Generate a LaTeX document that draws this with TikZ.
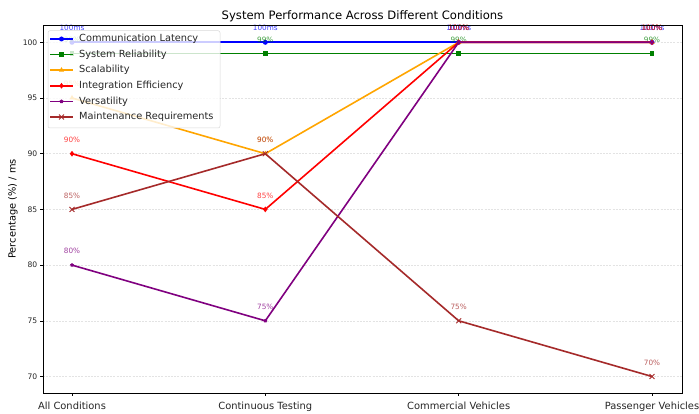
\documentclass[tikz,border=0pt]{standalone}
\usepackage{fontspec}
\setmainfont{DejaVu Sans}
\usetikzlibrary{shapes.geometric,shapes.misc}
\definecolor{mblue}{RGB}{0,0,255}
\definecolor{mgreen}{RGB}{0,128,0}
\definecolor{morange}{RGB}{255,165,0}
\definecolor{mred}{RGB}{255,0,0}
\definecolor{mpurple}{RGB}{128,0,128}
\definecolor{mbrown}{RGB}{165,42,42}
\begin{document}
\begin{tikzpicture}[x=1pt,y=-1pt,
  serie/.style={line width=1.6pt, line join=round, draw=#1},
  mkcirc/.style={circle, fill=#1, inner sep=0pt, minimum size=5pt},
  mksq/.style={rectangle, fill=#1, inner sep=0pt, minimum size=4.6pt},
  mktri/.style={regular polygon, regular polygon sides=3, fill=#1, inner sep=0pt, minimum size=6pt},
  mkdia/.style={diamond, fill=#1, inner sep=0pt, minimum width=4.6pt, minimum height=6pt},
  mkpent/.style={regular polygon, regular polygon sides=5, fill=#1, inner sep=0pt, minimum size=4pt},
  mkx/.style={cross out, draw=#1, line width=0.9pt, inner sep=0pt, minimum size=4pt},
  vlab/.style={font=\fontsize{7.3}{8}\selectfont, text=#1, text opacity=0.75, inner sep=0pt, yshift=14pt},
  ticklab/.style={font=\fontsize{7.6}{9}\selectfont, text=black!85, inner sep=0pt},
  xlab/.style={font=\fontsize{9.9}{11}\selectfont, text=black!85, inner sep=0pt},
  legtext/.style={font=\fontsize{9.8}{11}\selectfont, text=black!85, anchor=west, inner sep=0pt},
  gridline/.style={draw=gray!22, line width=0.5pt, dash pattern=on 2pt off 1.2pt},
]
\useasboundingbox[fill=white] (0,0) rectangle (699,414);

% grid
\foreach \v/\yy in {100/42.3,95/98.0,90/153.7,85/209.4,80/265.1,75/320.8,70/376.5}{
  \draw[gridline] (43,\yy) -- (682,\yy);
  \draw[line width=0.6pt] (43,\yy) -- (40.2,\yy);
  \node[ticklab, anchor=east] at (37.5,\yy) {\v};
}
\foreach \xx/\t in {72/All Conditions,265.3/Continuous Testing,458.7/Commercial Vehicles,652/Passenger Vehicles}{
  \draw[line width=0.6pt] (\xx,393) -- (\xx,395.8);
  \node[xlab, anchor=mid] at (\xx,407) {\t};
}

% coordinates
\coordinate (c1) at (72,42.3);   \coordinate (c2) at (265.3,42.3);  \coordinate (c3) at (458.7,42.3);  \coordinate (c4) at (652,42.3);
\coordinate (r1) at (72,53.4);   \coordinate (r2) at (265.3,53.4);  \coordinate (r3) at (458.7,53.4);  \coordinate (r4) at (652,53.4);
\coordinate (s1) at (72,98.0);   \coordinate (s2) at (265.3,153.7); \coordinate (s3) at (458.7,42.3);  \coordinate (s4) at (652,42.3);
\coordinate (i1) at (72,153.7);  \coordinate (i2) at (265.3,209.4); \coordinate (i3) at (458.7,42.3);  \coordinate (i4) at (652,42.3);
\coordinate (v1) at (72,265.1);  \coordinate (v2) at (265.3,320.8); \coordinate (v3) at (458.7,42.3);  \coordinate (v4) at (652,42.3);
\coordinate (m1) at (72,209.4);  \coordinate (m2) at (265.3,153.7); \coordinate (m3) at (458.7,320.8); \coordinate (m4) at (652,376.5);

% Communication Latency
\draw[serie=mblue] (c1) -- (c2) -- (c3) -- (c4);
\foreach \p in {c1,c2,c3,c4}{\node[mkcirc=mblue] (n\p) at (\p) {};}
\foreach \p in {c1,c2,c3,c4}{\node[vlab=mblue] (l\p) at (\p) {100ms};}
% System Reliability
\draw[serie=mgreen] (r1) -- (r2) -- (r3) -- (r4);
\foreach \p in {r1,r2,r3,r4}{\node[mksq=mgreen] (n\p) at (\p) {};}
\foreach \p in {r1,r2,r3,r4}{\node[vlab=mgreen] (l\p) at (\p) {99\%};}
% Scalability
\draw[serie=morange] (s1) -- (s2) -- (s3) -- (s4);
\foreach \p in {s1,s2,s3,s4}{\node[mktri=morange] (n\p) at (\p) {};}
\node[vlab=morange] (ls1) at (s1) {95\%};
\node[vlab=morange] (ls2) at (s2) {90\%};
\node[vlab=morange] (ls3) at (s3) {100\%};
\node[vlab=morange] (ls4) at (s4) {100\%};
% Integration Efficiency
\draw[serie=mred] (i1) -- (i2) -- (i3) -- (i4);
\foreach \p in {i1,i2,i3,i4}{\node[mkdia=mred] (n\p) at (\p) {};}
\node[vlab=mred] (li1) at (i1) {90\%};
\node[vlab=mred] (li2) at (i2) {85\%};
\node[vlab=mred] (li3) at (i3) {100\%};
\node[vlab=mred] (li4) at (i4) {100\%};
% Versatility
\draw[serie=mpurple] (v1) -- (v2) -- (v3) -- (v4);
\foreach \p in {v1,v2,v3,v4}{\node[mkpent=mpurple] (n\p) at (\p) {};}
\node[vlab=mpurple] (lv1) at (v1) {80\%};
\node[vlab=mpurple] (lv2) at (v2) {75\%};
\node[vlab=mpurple] (lv3) at (v3) {100\%};
\node[vlab=mpurple] (lv4) at (v4) {100\%};
% Maintenance Requirements
\draw[serie=mbrown] (m1) -- (m2) -- (m3) -- (m4);
\foreach \p in {m1,m2,m3,m4}{\node[mkx=mbrown] (n\p) at (\p) {};}
\node[vlab=mbrown] (lm1) at (m1) {85\%};
\node[vlab=mbrown] (lm2) at (m2) {90\%};
\node[vlab=mbrown] (lm3) at (m3) {75\%};
\node[vlab=mbrown] (lm4) at (m4) {70\%};

% axes frame
\draw[line width=0.6pt] (43,25) rectangle (682,393);

% title and y label
\node[font=\fontsize{11.6}{13}\selectfont, inner sep=0pt] (title) at (362.5,16) {System Performance Across Different Conditions};
\node[font=\fontsize{9.8}{11}\selectfont, rotate=90, inner sep=0pt] (ylab) at (13,209) {Percentage (\%) / ms};

% legend
\draw[draw=gray!30, fill=white, fill opacity=0.8, rounded corners=2pt, line width=0.5pt] (48,30.7) rectangle (220,128);
\foreach \k/\yy/\col/\mk/\t in {1/39/mblue/mkcirc/Communication Latency, 2/54.6/mgreen/mksq/System Reliability, 3/70.2/morange/mktri/Scalability, 4/85.8/mred/mkdia/Integration Efficiency, 5/101.4/mpurple/mkpent/Versatility, 6/117/mbrown/mkx/Maintenance Requirements}{
  \coordinate (la\k) at (50,\yy);
  \coordinate (lb\k) at (73,\yy);
  \draw[serie=\col] (la\k) -- (lb\k);
  \node[\mk=\col] (lm\k) at (61.5,\yy) {};
  \node[legtext] (lt\k) at (79,\yy) {\t};
}
\end{tikzpicture}
\end{document}
